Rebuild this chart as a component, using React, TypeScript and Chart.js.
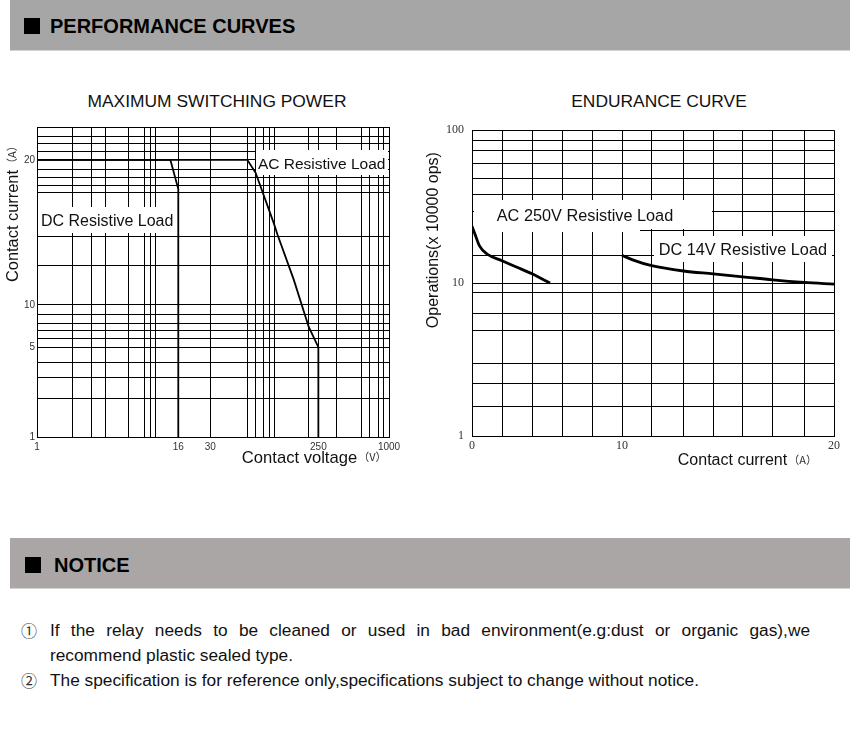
import React, { useEffect, useRef } from 'react';
import { Chart, registerables, LinearScale } from 'chart.js';

Chart.register(...registerables);

// ---------- MAXIMUM SWITCHING POWER ----------
const acLoadVoltage = [1, 62, 73, 104, 112, 154, 207, 250, 250];
const acLoadCurrent = [20, 20, 18.8, 14.8, 14.0, 11.3, 6.96, 5, 1];
const dcLoadVoltage = [1, 13.7, 16, 16];
const dcLoadCurrent = [20, 20, 17.4, 1];
const voltageGrid = [1, 2, 2.9, 3.8, 6, 8.2, 9.2, 10.3, 16, 30, 62, 73, 85, 95, 106, 208, 250, 357, 583, 686, 807, 891, 1000];
const voltageTickLabels = [1, 16, 30, 250, 1000];
const currentGrid = [1, 2, 2.9, 3.8, 5, 5.8, 6.6, 7.4, 8.6, 10, 12.1, 13.9, 17.1, 17.7, 18.4, 19.1, 20, 20.8, 21.6, 22.4, 23.4];
const currentTickLabels = [1, 5, 10, 20];

// ---------- ENDURANCE CURVE ----------
const ac250Current = [0, 0.2, 0.5, 1, 2, 3, 4, 5.2];
const ac250Ops = [23.5, 20.9, 17.5, 15.5, 14, 12.7, 11.5, 10];
const dc14Current = [10, 10.5, 11.4, 12.9, 14.3, 15.7, 17.1, 18.6, 20];
const dc14Ops = [15.2, 14.2, 13, 12, 11.5, 11, 10.5, 10.1, 9.85];
const enduranceCurrentGrid = [0, 2, 4, 6, 8, 10, 11.4, 12.9, 14.3, 15.7, 17.1, 18.6, 20];
const enduranceCurrentLabels = [0, 10, 20];
const opsGrid = [1, 1.55, 2.2, 3, 4.9, 6.3, 8.7, 10, 15.2, 22, 29.6, 38, 48, 61, 74, 86, 100];
const opsLabels = [1, 10, 100];

const SANS = '"Liberation Sans", Arial, Helvetica, sans-serif';
const SERIF = '"Liberation Serif", "Times New Roman", serif';
const CJK = '"Noto Sans CJK SC", "Noto Sans CJK JP", sans-serif';

// A linear scale with a piecewise (optionally logarithmic) warp, as drawn in the datasheet
class WarpScale extends (LinearScale as any) {
  static id = 'warp';
  static defaults = (LinearScale as any).defaults;
  warpDef() {
    const raw = ((this as any).chart.config.options as any).scales[(this as any).id];
    const log = !!raw.warpLog;
    const t = (v: number) => (log ? Math.log10(v) : v);
    return { vals: raw.warpValues.map(t), fracs: raw.warpFractions, log };
  }
  getPixelForValue(value: any) {
    if (value === null || value === undefined || isNaN(value)) return NaN;
    const { vals, fracs, log } = this.warpDef();
    const x = log ? Math.log10(value) : value;
    let i = 0;
    while (i < vals.length - 2 && x > vals[i + 1]) i++;
    const f = fracs[i] + ((x - vals[i]) / (vals[i + 1] - vals[i])) * (fracs[i + 1] - fracs[i]);
    return (this as any).getPixelForDecimal(f);
  }
  getValueForPixel(pixel: number) {
    const { vals, fracs, log } = this.warpDef();
    const f = (this as any).getDecimalForPixel(pixel);
    let i = 0;
    while (i < fracs.length - 2 && f > fracs[i + 1]) i++;
    const x = vals[i] + ((f - fracs[i]) / (fracs[i + 1] - fracs[i])) * (vals[i + 1] - vals[i]);
    return log ? Math.pow(10, x) : x;
  }
}
Chart.register(WarpScale as any);

function drawAxisTitle(ctx: any, text: string, unit: string, cx: number, cy: number, vertical: boolean, size: number) {
  ctx.save();
  ctx.translate(cx, cy);
  if (vertical) ctx.rotate(-Math.PI / 2);
  ctx.fillStyle = '#111';
  ctx.textBaseline = 'middle';
  ctx.textAlign = 'left';
  ctx.font = `${size}px ${SANS}`;
  const w = ctx.measureText(text).width;
  ctx.fillText(text, -w / 2, 0);
  ctx.font = `11px ${CJK}`;
  ctx.fillStyle = '#333';
  ctx.fillText(unit, w / 2 + 1, -1);
  ctx.restore();
}

type Box = [number, number, number, number];
type Note = { text: string; x: number; y: number; size: number };

function annotations(boxes: Box[], notes: Note[], titles: (chart: any) => void) {
  return {
    id: 'annotations',
    beforeDatasetsDraw(chart: any) {
      const { ctx, scales } = chart;
      const x = scales.x;
      const y = scales.y;
      ctx.save();
      ctx.fillStyle = '#fff';
      boxes.forEach(([x0, x1, y0, y1]) => {
        const a = x.getPixelForValue(x0);
        const b = x.getPixelForValue(x1);
        const c = y.getPixelForValue(y0);
        const d = y.getPixelForValue(y1);
        ctx.fillRect(Math.round(Math.min(a, b)), Math.round(Math.min(c, d)), Math.round(Math.abs(b - a)), Math.round(Math.abs(d - c)));
      });
      ctx.fillStyle = '#111';
      ctx.textBaseline = 'middle';
      ctx.textAlign = 'left';
      notes.forEach((n) => {
        ctx.font = `${n.size}px ${SANS}`;
        ctx.fillText(n.text, x.getPixelForValue(n.x), y.getPixelForValue(n.y));
      });
      ctx.restore();
    },
    afterDraw(chart: any) {
      titles(chart);
    },
  };
}

const pts = (xs: number[], ys: number[]) => xs.map((v, i) => ({ x: v, y: ys[i] }));

const gridStyle = { color: '#000', lineWidth: 1, drawTicks: false };
const borderStyle = { color: '#000', width: 1 };

function leftConfig(): any {
  return {
    type: 'line',
    data: {
      datasets: [
        { label: 'AC Resistive Load', data: pts(acLoadVoltage, acLoadCurrent), borderColor: '#000', borderWidth: 1.8, pointRadius: 0, tension: 0, fill: false },
        { label: 'DC Resistive Load', data: pts(dcLoadVoltage, dcLoadCurrent), borderColor: '#000', borderWidth: 1.8, pointRadius: 0, tension: 0, fill: false },
      ],
    },
    options: {
      responsive: false,
      animation: false,
      devicePixelRatio: 1,
      events: [],
      layout: { padding: { left: 0, top: 12, right: 21, bottom: 0 } },
      plugins: { legend: { display: false }, tooltip: { enabled: false } },
      scales: {
        x: {
          type: 'logarithmic',
          min: 1,
          max: 1000,
          afterBuildTicks: (s: any) => { s.ticks = voltageGrid.map((v) => ({ value: v })); },
          afterFit: (s: any) => { s.height = 38; },
          grid: gridStyle,
          border: borderStyle,
          ticks: {
            autoSkip: false, maxRotation: 0, padding: 4, color: '#333',
            font: { family: SANS, size: 10 },
            callback: (v: any) => (voltageTickLabels.includes(Number(v)) ? String(v) : ''),
          },
        },
        y: {
          type: 'warp',
          min: 1,
          max: 23.4,
          warpLog: true,
          warpValues: [1, 5, 10, 20, 23.4],
          warpFractions: [0, 0.29, 0.426, 0.894, 1],
          afterBuildTicks: (s: any) => { s.ticks = currentGrid.map((v) => ({ value: v })); },
          afterFit: (s: any) => { s.width = 37; },
          grid: gridStyle,
          border: borderStyle,
          ticks: {
            autoSkip: false, padding: 2, color: '#333',
            font: { family: SANS, size: 10 },
            callback: (v: any) => (currentTickLabels.includes(Number(v)) ? String(v) : ''),
          },
        },
      },
    },
    plugins: [
      annotations(
        [
          [1.02, 15.5, 14.1, 16.0],
          [73.3, 975, 18.6, 21.0],
        ],
        [
          { text: 'DC Resistive Load', x: 1.08, y: 14.9, size: 16 },
          { text: 'AC Resistive Load', x: 76.3, y: 19.5, size: 15.5 },
        ],
        (chart: any) => {
          const a = chart.chartArea;
          drawAxisTitle(chart.ctx, 'Contact voltage', '（V）', a.right - 89.5, a.bottom + 21, false, 16.6);
          drawAxisTitle(chart.ctx, 'Contact current', '（A）', a.left - 24, (a.top + a.bottom) / 2 - 56, true, 16.4);
        }
      ),
    ],
  };
}

function rightConfig(): any {
  return {
    type: 'line',
    data: {
      datasets: [
        { label: 'AC 250V Resistive Load', data: pts(ac250Current, ac250Ops), borderColor: '#000', borderWidth: 2.8, pointRadius: 0, cubicInterpolationMode: 'monotone', fill: false },
        { label: 'DC 14V Resistive Load', data: pts(dc14Current, dc14Ops), borderColor: '#000', borderWidth: 2.8, pointRadius: 0, cubicInterpolationMode: 'monotone', fill: false },
      ],
    },
    options: {
      responsive: false,
      animation: false,
      devicePixelRatio: 1,
      events: [],
      layout: { padding: { left: 0, top: 15, right: 16, bottom: 0 } },
      plugins: { legend: { display: false }, tooltip: { enabled: false } },
      scales: {
        x: {
          type: 'warp',
          min: 0,
          max: 20,
          warpLog: false,
          warpValues: [0, 10, 20],
          warpFractions: [0, 0.4144, 1],
          afterBuildTicks: (s: any) => { s.ticks = enduranceCurrentGrid.map((v) => ({ value: v })); },
          afterFit: (s: any) => { s.height = 39; },
          grid: gridStyle,
          border: borderStyle,
          ticks: {
            autoSkip: false, maxRotation: 0, padding: 3, color: '#333',
            font: { family: SERIF, size: 12 },
            callback: (v: any) => (enduranceCurrentLabels.includes(Number(v)) ? String(v) : ''),
          },
        },
        y: {
          type: 'logarithmic',
          min: 1,
          max: 100,
          afterBuildTicks: (s: any) => { s.ticks = opsGrid.map((v) => ({ value: v })); },
          afterFit: (s: any) => { s.width = 52; },
          grid: gridStyle,
          border: borderStyle,
          ticks: {
            autoSkip: false, padding: 8, color: '#333',
            font: { family: SERIF, size: 12 },
            callback: (v: any) => (opsLabels.includes(Number(v)) ? String(v) : ''),
          },
        },
      },
    },
    plugins: [
      annotations(
        [
          [0.11, 14.23, 22.5, 34.9],
          [0.11, 10.83, 21.5, 22.9],
          [11.5, 19.9, 13.7, 20.3],
        ],
        [
          { text: 'AC 250V Resistive Load', x: 1.65, y: 27.4, size: 16.3 },
          { text: 'DC 14V Resistive Load', x: 11.73, y: 16.4, size: 16.3 },
        ],
        (chart: any) => {
          const a = chart.chartArea;
          drawAxisTitle(chart.ctx, 'Contact current', '（A）', a.right - 101.5, a.bottom + 25, false, 16);
          drawAxisTitle(chart.ctx, 'Operations(x 10000 ops)', '', a.left - 38, (a.top + a.bottom) / 2 - 43, true, 16);
        }
      ),
    ],
  };
}

export default function App() {
  const leftRef = useRef<HTMLCanvasElement>(null);
  const rightRef = useRef<HTMLCanvasElement>(null);

  useEffect(() => {
    const c1 = new Chart(leftRef.current as HTMLCanvasElement, leftConfig());
    const c2 = new Chart(rightRef.current as HTMLCanvasElement, rightConfig());
    return () => {
      c1.destroy();
      c2.destroy();
    };
  }, []);

  const abs = (s: any) => ({ position: 'absolute', ...s } as React.CSSProperties);
  const noticeText = { fontSize: 17.3, lineHeight: '25px' };

  return (
    <div style={abs({ left: 0, top: 0, width: 850, height: 730, overflow: 'hidden', background: '#fff', fontFamily: SANS, color: '#111' })}>
      <div style={abs({ left: 10, top: 0, width: 840, height: 50, background: '#a6a6a6', borderBottom: '1px solid #d2d2d2' })} />
      <div style={abs({ left: 24, top: 18, width: 16, height: 16, background: '#000' })} />
      <div style={abs({ left: 50, top: 14, fontSize: 20, lineHeight: '24px', fontWeight: 'bold', whiteSpace: 'nowrap', color: '#000' })}>PERFORMANCE CURVES</div>

      <div style={abs({ left: 17, top: 91, width: 400, textAlign: 'center', fontSize: 17.4, lineHeight: '20px', whiteSpace: 'nowrap' })}>MAXIMUM SWITCHING POWER</div>
      <div style={abs({ left: 459, top: 91, width: 400, textAlign: 'center', fontSize: 17.4, lineHeight: '20px', whiteSpace: 'nowrap' })}>ENDURANCE CURVE</div>

      <canvas ref={leftRef} width={410} height={360} style={abs({ left: 0, top: 115, width: 410, height: 360 })} />
      <canvas ref={rightRef} width={430} height={360} style={abs({ left: 420, top: 115, width: 430, height: 360 })} />

      <div style={abs({ left: 10, top: 538, width: 840, height: 50, background: '#aaa6a5', borderBottom: '1px solid #d2d2d2' })} />
      <div style={abs({ left: 25, top: 557, width: 16, height: 16, background: '#000' })} />
      <div style={abs({ left: 54, top: 553, fontSize: 20, lineHeight: '24px', fontWeight: 'bold', whiteSpace: 'nowrap', color: '#000' })}>NOTICE</div>

      <div style={abs({ left: 21, top: 618, fontSize: 16, lineHeight: '25px', fontFamily: CJK, color: '#333' })}>①</div>
      <div style={abs({ left: 50, top: 618, width: 760, ...noticeText, textAlign: 'justify', textAlignLast: 'justify' })}>
        If the relay needs to be cleaned or used in bad environment(e.g:dust or organic gas),we
      </div>
      <div style={abs({ left: 50, top: 643, ...noticeText, whiteSpace: 'nowrap' })}>recommend plastic sealed type.</div>
      <div style={abs({ left: 21, top: 668, fontSize: 16, lineHeight: '25px', fontFamily: CJK, color: '#333' })}>②</div>
      <div style={abs({ left: 50, top: 668, ...noticeText, whiteSpace: 'nowrap' })}>
        The specification is for reference only,specifications subject to change without notice.
      </div>
    </div>
  );
}
